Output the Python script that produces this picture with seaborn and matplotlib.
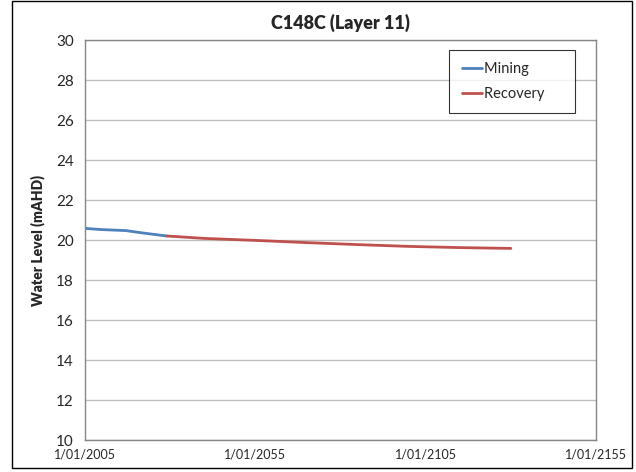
import seaborn as sns
import matplotlib.pyplot as plt
import pandas as pd
from matplotlib.patches import Rectangle

# data
mining_year = [2005.0, 2010.0, 2017.0, 2022.0, 2029.0]
mining_level = [20.58, 20.52, 20.47, 20.35, 20.20]
recovery_year = [2029.0, 2040.0, 2055.0, 2070.0, 2085.0, 2100.0, 2115.0, 2130.0]
recovery_level = [20.20, 20.08, 19.98, 19.87, 19.77, 19.68, 19.62, 19.58]
x_ticks = [2005, 2055, 2105, 2155]
x_labels = ['1/01/2005', '1/01/2055', '1/01/2105', '1/01/2155']

df = pd.concat([
    pd.DataFrame({'year': mining_year, 'level': mining_level, 'phase': 'Mining'}),
    pd.DataFrame({'year': recovery_year, 'level': recovery_level, 'phase': 'Recovery'}),
])

sns.set_style('white')
plt.rcParams['font.family'] = ['Lato', 'DejaVu Sans']

fig = plt.figure(figsize=(6.36, 4.72), dpi=100)
ax = fig.add_axes([85 / 636, 32 / 472, 511 / 636, 400 / 472])

sns.lineplot(data=df, x='year', y='level', hue='phase', sort=False,
             palette={'Mining': '#4F81BD', 'Recovery': '#C0504D'},
             linewidth=2.0, ax=ax)

ax.set_xlim(2005, 2155)
ax.set_ylim(10, 30)
ax.set_yticks(range(10, 31, 2))
ax.set_xticks(x_ticks)
ax.set_xticklabels(x_labels, fontsize=9)
ax.tick_params(axis='y', labelsize=11, length=0, pad=8)
ax.tick_params(axis='x', length=0, pad=6)
ax.grid(axis='y', color='#bfbfbf', linewidth=1)
ax.set_axisbelow(True)
for s in ax.spines.values():
    s.set_color('#868686')
    s.set_linewidth(1)

ax.set_xlabel('')
ax.set_ylabel('Water Level (mAHD)', fontsize=10, fontweight='heavy', labelpad=8)
ax.set_title('C148C (Layer 11)', fontsize=13, fontweight='heavy', pad=8)

handles, labels = ax.get_legend_handles_labels()
leg = ax.legend(handles, [l + '     ' for l in labels],
                loc='upper right', bbox_to_anchor=(0.959, 0.975), fontsize=10.5,
                handlelength=1.4, handletextpad=0.1, frameon=True, fancybox=False,
                borderpad=0.85, labelspacing=0.7, borderaxespad=0)
leg.get_frame().set_edgecolor('black')
leg.get_frame().set_linewidth(0.8)

fig.patches.append(Rectangle((12 / 636, 4 / 472), 620 / 636, 467 / 472,
                             transform=fig.transFigure, fill=False,
                             edgecolor='black', linewidth=1))

fig.savefig('out.png', dpi=100)
